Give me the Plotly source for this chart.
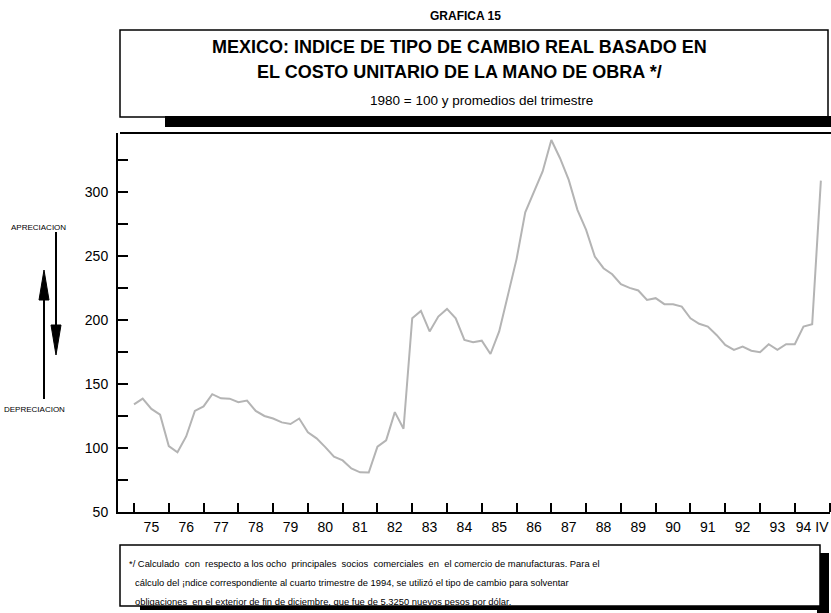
import plotly.graph_objects as go

# ---------------- data (quarterly, 1975-I .. 1994-IV) ----------------
year_labels = ["75", "76", "77", "78", "79", "80", "81", "82", "83", "84",
               "85", "86", "87", "88", "89", "90", "91", "92", "93", "94 IV"]
quarters_per_year = 4
index_values = [
    134.0, 138.5, 130.5, 126.0,   # 75
    101.5, 96.6, 109.0, 129.0,    # 76
    132.5, 142.0, 138.8, 138.5,   # 77
    135.7, 137.0, 129.0, 125.0,   # 78
    123.0, 120.0, 118.7, 123.0,   # 79
    112.3, 107.5, 100.7, 93.2,    # 80
    90.3, 84.0, 81.0, 80.8,       # 81
    101.0, 106.0, 128.0, 115.0,   # 82
    201.3, 207.0, 191.0, 202.6,   # 83
    208.6, 201.3, 184.4, 182.6,   # 84
    183.8, 173.4, 191.0, 219.5,   # 85
    247.5, 284.0, 300.0, 316.0,   # 86
    340.5, 326.3, 309.4, 286.0,   # 87
    270.3, 249.5, 240.4, 235.7,   # 88
    228.0, 225.0, 223.0, 215.6,   # 89
    217.0, 212.3, 212.3, 210.4,   # 90
    201.3, 197.0, 194.8, 188.3,   # 91
    180.5, 176.6, 179.2, 176.0,   # 92
    174.8, 181.0, 176.6, 181.0,   # 93
    181.0, 194.8, 196.6, 308.8,   # 94
]
y_tick_values = [50, 75, 100, 125, 150, 175, 200, 225, 250, 275, 300, 325]
y_tick_labels = ["50", "", "100", "", "150", "", "200", "", "250", "", "300", ""]

W, H = 831, 613
L, R, T, B = 118, 1, 133, 101
PW, PH = W - L - R, H - T - B


def px(x):
    return (x - L) / PW


def py(y):
    return (H - B - y) / PH


FONT = "Liberation Sans, Arial, sans-serif"
NARROW = "Liberation Sans Narrow, Arial Narrow, Liberation Sans, Arial, sans-serif"

n = len(index_values)
x_q = list(range(n))
label_pos = [quarters_per_year * k + 2 for k in range(len(year_labels))]
tick_bounds = [quarters_per_year * k for k in range(len(year_labels) + 1)]

fig = go.Figure()
fig.add_trace(go.Scatter(
    x=x_q, y=index_values, mode="lines",
    line=dict(color="#b4b4b4", width=2),
    hoverinfo="skip", showlegend=False,
))

fig.update_layout(
    width=W, height=H,
    margin=dict(l=L, r=R, t=T, b=B, pad=0),
    paper_bgcolor="white", plot_bgcolor="white",
    showlegend=False,
    font=dict(family=FONT, color="black"),
    xaxis=dict(
        range=[-1.84, 80.05],
        tickmode="array", tickvals=label_pos, ticktext=year_labels,
        ticks="", showgrid=False, zeroline=False,
        showline=True, linecolor="black", linewidth=2,
        tickfont=dict(size=14, family=FONT),
        ticklabelstandoff=1,
        minor=dict(tickmode="array", tickvals=tick_bounds, ticks="inside",
                   ticklen=9, tickwidth=1.5, tickcolor="black", showgrid=False),
    ),
    yaxis=dict(
        range=[50, 346],
        tickmode="array", tickvals=y_tick_values, ticktext=y_tick_labels,
        ticks="inside", ticklen=10, tickwidth=1.5, tickcolor="black",
        showgrid=False, zeroline=False,
        showline=True, linecolor="black", linewidth=2,
        tickfont=dict(size=14, family=FONT),
        ticklabelstandoff=5,
    ),
)

shapes = []
# top frame line of plot
shapes.append(dict(type="line", xref="paper", yref="paper",
                   x0=px(120), x1=px(831), y0=py(133), y1=py(133),
                   line=dict(color="black", width=2)))
# title box + shadow
shapes.append(dict(type="rect", xref="paper", yref="paper",
                   x0=px(120), x1=px(828), y0=py(117), y1=py(30),
                   line=dict(color="black", width=1.5), fillcolor="white", layer="below"))
shapes.append(dict(type="rect", xref="paper", yref="paper",
                   x0=px(165), x1=px(831), y0=py(127), y1=py(116),
                   line=dict(width=0), fillcolor="black"))
# footnote box + shadow
shapes.append(dict(type="rect", xref="paper", yref="paper",
                   x0=px(817), x1=px(829), y0=py(613), y1=py(553),
                   line=dict(width=0), fillcolor="black"))
shapes.append(dict(type="rect", xref="paper", yref="paper",
                   x0=px(140), x1=px(829), y0=py(610), y1=py(605),
                   line=dict(width=0), fillcolor="black"))
shapes.append(dict(type="rect", xref="paper", yref="paper",
                   x0=px(120), x1=px(820), y0=py(606), y1=py(545),
                   line=dict(color="black", width=1.5), fillcolor="white"))
# arrows (up = depreciation, down = appreciation)
shapes.append(dict(type="line", xref="paper", yref="paper",
                   x0=px(44), x1=px(44), y0=py(399), y1=py(298),
                   line=dict(color="black", width=2)))
shapes.append(dict(type="path", xref="paper", yref="paper",
                   path=f"M {px(39)} {py(300)} L {px(49)} {py(300)} L {px(44)} {py(270)} Z",
                   fillcolor="black", line=dict(color="black", width=1)))
shapes.append(dict(type="line", xref="paper", yref="paper",
                   x0=px(56), x1=px(56), y0=py(232), y1=py(327),
                   line=dict(color="black", width=2)))
shapes.append(dict(type="path", xref="paper", yref="paper",
                   path=f"M {px(51)} {py(325)} L {px(61)} {py(325)} L {px(56)} {py(355)} Z",
                   fillcolor="black", line=dict(color="black", width=1)))
fig.update_layout(shapes=shapes)


def ann(text, x, y, size, bold=False, xanchor="center", family=FONT):
    t = f"<b>{text}</b>" if bold else text
    fig.add_annotation(text=t, xref="paper", yref="paper", x=px(x), y=py(y),
                       xanchor=xanchor, yanchor="middle", showarrow=False,
                       font=dict(size=size, family=family, color="black"))


ann("GRAFICA 15", 465, 16, 12, bold=True)
ann("MEXICO: INDICE DE TIPO DE CAMBIO REAL BASADO EN", 459, 47, 18, bold=True)
ann("EL COSTO UNITARIO DE LA MANO DE OBRA */", 459, 72, 18, bold=True)
ann("1980 = 100 y promedios del trimestre", 481, 100, 13.5)
ann("APRECIACION", 38, 227, 8)
ann("DEPRECIACION", 34, 409, 8)

foot = [
    ("*/ Calculado  con  respecto a los ocho  principales  socios  comerciales  en  el comercio de manufacturas. Para el", 127, 563),
    ("cálculo del ¡ndice correspondiente al cuarto trimestre de 1994, se utilizó el tipo de cambio para solventar", 133, 582),
    ("obligaciones  en el exterior de fin de diciembre, que fue de 5.3250 nuevos pesos por dólar.", 133, 601),
]
for txt, x0, y0 in foot:
    ann(txt, x0, y0, 9.4, xanchor="left", family=NARROW)

fig.write_html(
    "out.html",
    config={"displayModeBar": False},
    post_script="document.body.style.margin='0';document.body.style.overflow='hidden';",
)
